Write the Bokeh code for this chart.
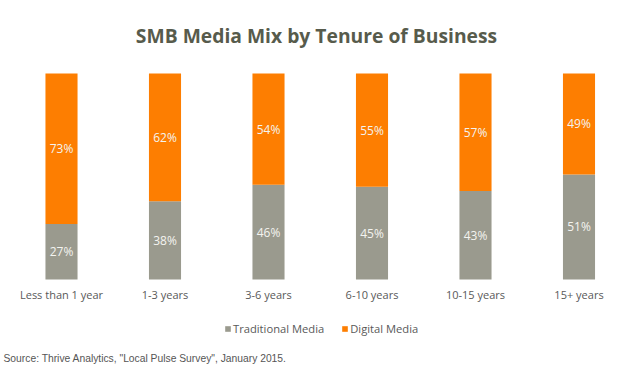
from bokeh.plotting import figure
from bokeh.models import Range1d, Label, Legend, LegendItem, ColumnDataSource
from bokeh.core.properties import value
from bokeh.embed import file_html
from bokeh.resources import INLINE

categories = ["Less than 1 year", "1-3 years", "3-6 years", "6-10 years", "10-15 years", "15+ years"]
traditional = [27, 38, 46, 45, 43, 51]
digital = [73, 62, 54, 55, 57, 49]

GREY = "#9a9a8e"
ORANGE = "#fd7e01"

W, H = 622, 384
FRAME_TOP, FRAME_BOTTOM = 73, 279
ppu = (FRAME_BOTTOM - FRAME_TOP) / 100.0
y_top = 100 + FRAME_TOP / ppu
y_bot = -(H - FRAME_BOTTOM) / ppu
x0 = -61 / 103.5
x1 = x0 + W / 103.5

xs = list(range(len(categories)))
src = ColumnDataSource(dict(
    x=xs, cat=categories, zero=[0] * len(xs), trad=traditional, dig=digital,
    trad_mid=[t / 2 for t in traditional],
    dig_mid=[t + d / 2 for t, d in zip(traditional, digital)],
    trad_lbl=[f"{t}%" for t in traditional],
    dig_lbl=[f"{d}%" for d in digital],
))

p = figure(width=W, height=H, output_backend="svg", toolbar_location=None,
           x_range=Range1d(x0, x1), y_range=Range1d(y_bot, y_top),
           min_border=0, x_axis_type=None, y_axis_type=None)
p.outline_line_color = None
p.grid.visible = False

r = p.vbar_stack(["trad", "dig"], x="x", width=0.31, source=src,
                 color=[GREY, ORANGE], line_color=None)

for ycol, tcol in (("trad_mid", "trad_lbl"), ("dig_mid", "dig_lbl")):
    p.text(x="x", y=ycol, text=tcol, source=src, text_align="center",
           text_baseline="middle", text_color="#f4f4f0", text_font_size="12px",
           text_font=value("Open Sans"))

# category labels (x axis)
p.text(x="x", y="zero", text="cat", source=src, y_offset=15, text_align="center",
       text_baseline="middle", text_color="#595959", text_font_size="11px",
       text_font=value("Open Sans"))

title = Label(x=316, y=H - 35, x_units="screen", y_units="screen",
              text="SMB Media Mix by Tenure of Business", text_align="center",
              text_baseline="middle", text_font="Open Sans", text_font_style="bold",
              text_font_size="19.3px", text_color="#575b4c")
p.add_layout(title)

source_lbl = Label(x=3, y=H - 358, x_units="screen", y_units="screen",
                   text='Source: Thrive Analytics, "Local Pulse Survey", January 2015.',
                   text_align="left", text_baseline="middle",
                   text_font="Liberation Sans", text_font_size="10.3px", text_color="#555555")
p.add_layout(source_lbl)

legend = Legend(items=[LegendItem(label="Traditional Media", renderers=[r[0]]),
                       LegendItem(label="Digital Media", renderers=[r[1]])],
                orientation="horizontal", location=(224, H - 329 - 7),
                background_fill_alpha=0, border_line_color=None,
                glyph_width=7, glyph_height=7, label_text_font="Open Sans",
                label_text_font_size="11.2px", label_text_color="#595959",
                label_standoff=2, spacing=17, padding=0, margin=0,
                label_height=14)
p.add_layout(legend)

open("out.html", "w").write(file_html(p, INLINE))
